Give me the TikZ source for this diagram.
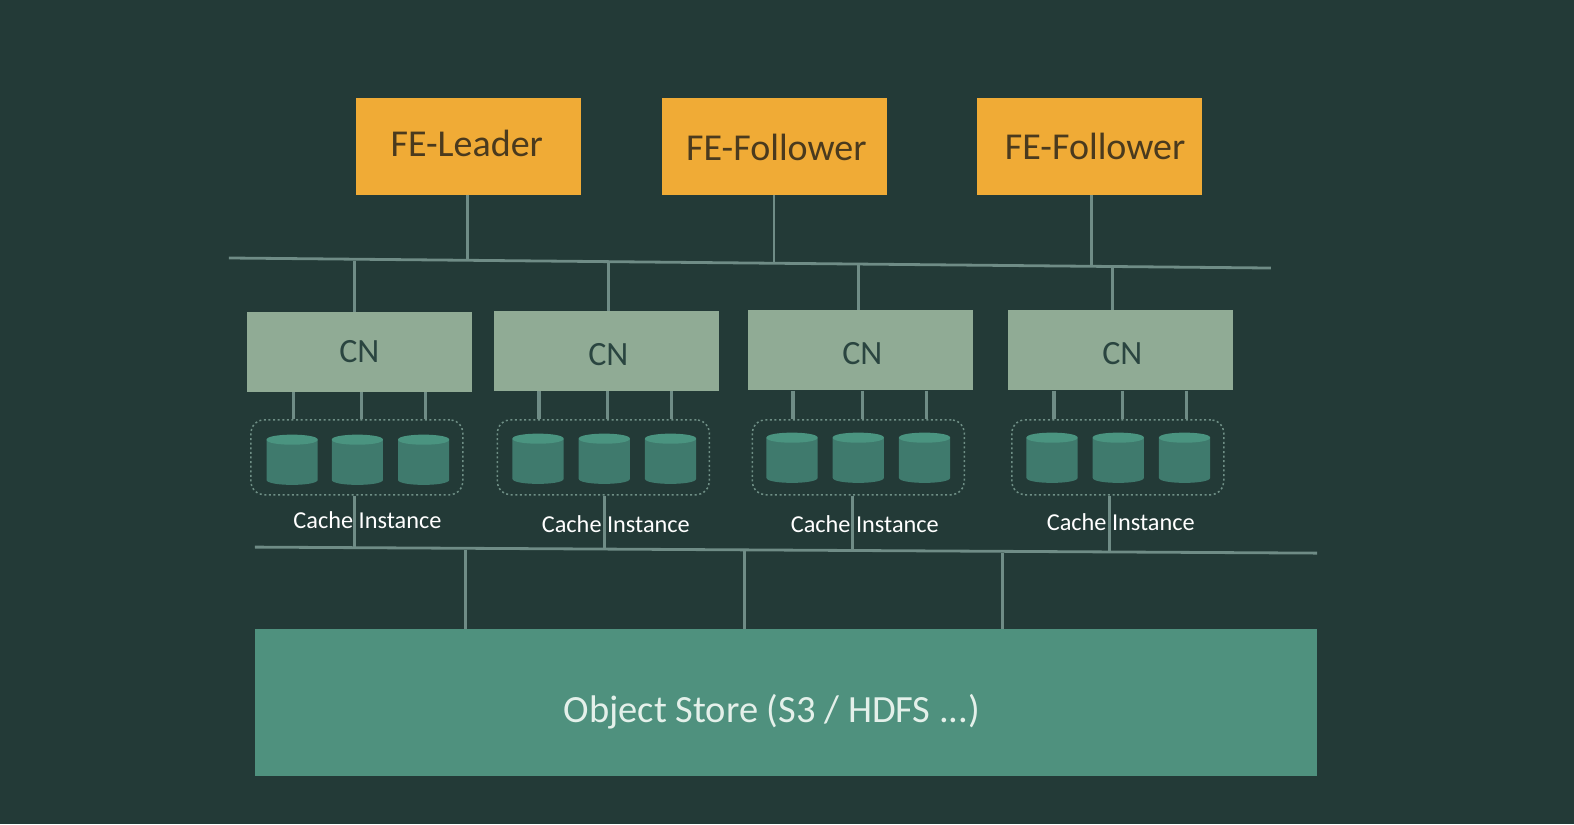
\documentclass[tikz,border=0pt]{standalone}
\usepackage{fontspec}
\setmainfont{Carlito}
\definecolor{bgc}{HTML}{233A37}
\definecolor{fec}{HTML}{F0AB36}
\definecolor{cnc}{HTML}{90AB95}
\definecolor{storec}{HTML}{4F917E}
\definecolor{cylc}{HTML}{3F7A6D}
\definecolor{cyltop}{HTML}{4A9480}
\definecolor{linec}{HTML}{6F8C86}
\definecolor{dotc}{HTML}{6F8F86}
\definecolor{fetext}{HTML}{4A3A1E}
\definecolor{cntext}{HTML}{2A4540}
\definecolor{storetext}{HTML}{E4F0EA}
\tikzset{
  px/.style={x=1.00383pt,y=-1.00383pt},
  febox/.style={fill=fec,draw=none,inner sep=0pt,minimum width=225pt,minimum height=97pt},
  cnbox/.style={fill=cnc,draw=none,inner sep=0pt,minimum width=225pt,minimum height=80pt},
  storebox/.style={fill=storec,draw=none,inner sep=0pt,minimum width=1062pt,minimum height=147pt},
  wire/.style={draw=linec,line width=2.8pt},
  thinwire/.style={draw=linec,line width=3.2pt},
  cachebox/.style={draw=dotc,line width=1.5pt,dash pattern=on 2pt off 2.6pt,rounded corners=13pt,inner sep=0pt,minimum width=212pt,minimum height=75pt},
  cylpic/.pic={
    \fill[cylc] (-25.5,-20) -- (-25.5,20)
       .. controls (-25.5,26.7) and (25.5,26.7) .. (25.5,20) -- (25.5,-20) -- cycle;
    \fill[cyltop] (-25.5,-20) .. controls (-25.5,-26.7) and (25.5,-26.7) .. (25.5,-20)
       .. controls (25.5,-13.3) and (-25.5,-13.3) .. (-25.5,-20) -- cycle;
  },
  fetxt/.style={text=fetext,font=\fontsize{38}{38}\selectfont,inner sep=0pt},
  cntxt/.style={text=cntext,font=\fontsize{34}{34}\selectfont,inner sep=0pt},
  cachetxt/.style={text=white,font=\fontsize{24.3}{25}\selectfont,inner sep=0pt},
  storetxt/.style={text=storetext,font=\fontsize{38.5}{39}\selectfont,inner sep=0pt},
}
\begin{document}
\begin{tikzpicture}[px]
\useasboundingbox (0,0) rectangle (1568,821);
\fill[bgc] (0,0) rectangle (1568,821);

% buses
\coordinate (busAl) at (228,257);
\coordinate (busAr) at (1266,267);
\coordinate (busBl) at (254,545);
\coordinate (busBr) at (1312,551);
\draw[wire] (busAl) -- (busAr);
\draw[wire] (busBl) -- (busBr);

% FE
\node[febox] (fe1) at (466.5,145.5) {};
\node[febox] (fe2) at (772,146) {};
\node[febox] (fe3) at (1085.5,145.5) {};
\node[fetxt] (fe1t) at (465,143) {FE-Leader};
\node[fetxt] (fe2t) at (773.5,147) {FE-Follower};
\node[fetxt] (fe3t) at (1091,146) {FE-Follower};
\coordinate (ja1) at (466,258.5);
\coordinate (ja2) at (771,262);
\coordinate (ja3) at (1087,264.5);
\draw[wire] (fe1.south -| ja1) -- (ja1);
\draw[wire] (fe2.south -| ja2) -- (ja2);
\draw[wire] (fe3.south -| ja3) -- (ja3);

\foreach \n/\cx/\cy/\tx/\ty/\la/\lb/\lc/\dx/\ca/\cb/\cc/\lx/\ly/\ux/\dnx/\uy/\dy/\cyy in {
  1/358/350.5/358/350/292/360/424/355.5/291/356/422/366/518/353/353/260/546/458,
  2/604/349.5/606/353/537/605/669/601/536/602/668/613.5/522/606/602/262/547/457,
  3/857/349/859/352/790/859/923/855/789/855/921/861.5/522/855/849/264/548/456,
  4/1116.5/349/1118/352/1050/1118/1182/1113.5/1048/1114/1180/1116.5/520/1108/1105/266/549/456}{
  \node[cnbox] (cn\n) at (\cx,\cy) {};
  \node[cntxt] (cn\n t) at (\tx,\ty) {CN};
  \node[cachebox] (cache\n) at (\dx,455.5) {};
  \pic at (\ca,\cyy) {cylpic};
  \pic at (\cb,\cyy) {cylpic};
  \pic at (\cc,\cyy) {cylpic};
  \coordinate (ju\n) at (\ux,\uy);
  \coordinate (jd\n) at (\dnx,\dy);
  \coordinate (la\n) at (\la,0);
  \coordinate (lb\n) at (\lb,0);
  \coordinate (lc\n) at (\lc,0);
  \draw[wire] (ju\n) -- (ju\n |- cn\n.north);
  \draw[thinwire] (la\n |- cn\n.south) -- (la\n |- cache\n.north);
  \draw[thinwire] (lb\n |- cn\n.south) -- (lb\n |- cache\n.north);
  \draw[thinwire] (lc\n |- cn\n.south) -- (lc\n |- cache\n.north);
  \draw[thinwire] (jd\n |- cache\n.south) -- (jd\n);
  \node[cachetxt] (label\n) at (\lx,\ly) {Cache Instance};
}

% object store
\node[storebox] (store) at (783,700) {};
\node[storetxt] (storet) at (769,709) {Object Store (S3 / HDFS ...)};
\coordinate (jb1) at (464,547.5);
\coordinate (jb2) at (742,549);
\coordinate (jb3) at (999,550.5);
\draw[wire] (jb1) -- (jb1 |- store.north);
\draw[wire] (jb2) -- (jb2 |- store.north);
\draw[wire] (jb3) -- (jb3 |- store.north);
\end{tikzpicture}
\end{document}
